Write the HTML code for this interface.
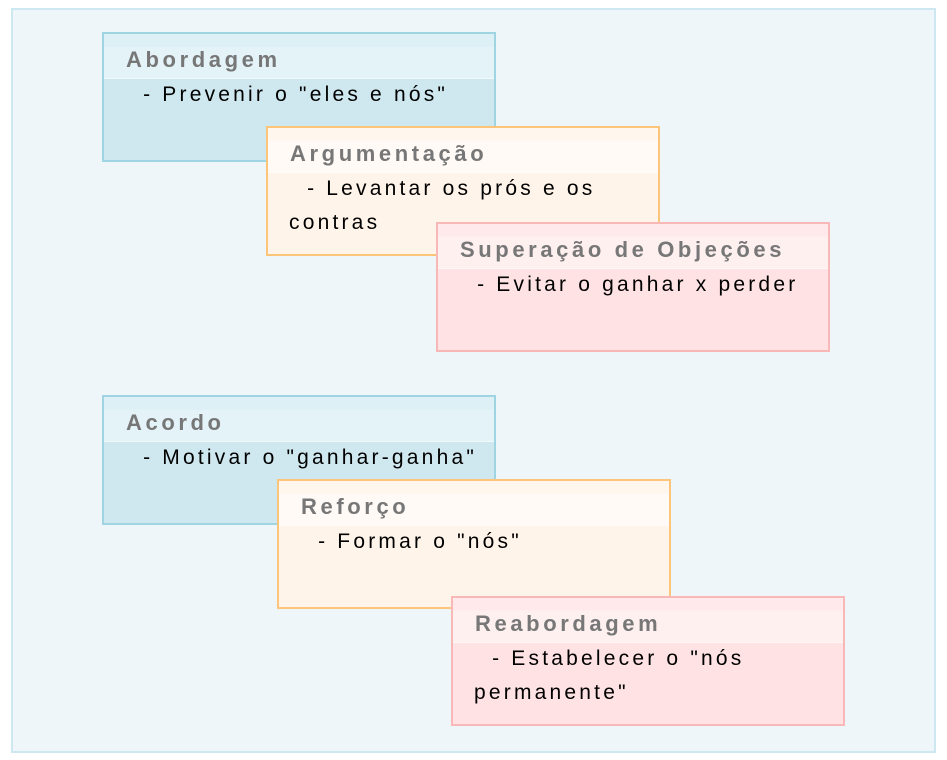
<!DOCTYPE html>
<html><head><meta charset="utf-8"><style>
body{margin:0;width:947px;height:760px;background:#fff;position:relative;overflow:hidden;font-family:"Liberation Sans",sans-serif}
.outer{position:absolute;left:11px;top:8px;width:921px;height:741px;background:#eef6f9;border:2px solid #cde8f0}
.b{position:absolute;width:394px;height:130px;box-sizing:border-box;border:2px solid}
.h{height:45px;box-sizing:border-box;padding-left:22px;line-height:52px;font-weight:bold;font-size:22px;letter-spacing:3.6px;color:#777;border-bottom:1px solid rgba(255,255,255,.6)}
.t{padding:0 0 0 21px;font-size:21px;letter-spacing:3.2px;line-height:34px;color:#000;margin-top:-1px}
.bl{border-color:#9fd5e2;background:#cfe8ef}.bl .h{background:linear-gradient(#dcf0f5 0,#dcf0f5 12px,#e3f3f8 13px)}
.or{border-color:#fcc57a;background:#fff4ea}.or .h{background:linear-gradient(#fff6ee 0,#fff6ee 12px,#fffaf6 13px)}
.pk{border-color:#f8b8b8;background:#ffe3e4}.pk .h{background:linear-gradient(#ffe9ea 0,#ffe9ea 12px,#fff0f0 13px)}
</style></head><body>
<div class="outer"></div>
<div class="b bl" style="left:102px;top:32px"><div class="h">Abordagem</div><div class="t">&nbsp;&nbsp;- Prevenir o "eles e nós"</div></div>
<div class="b or" style="left:266px;top:126px"><div class="h">Argumentação</div><div class="t">&nbsp;&nbsp;- Levantar os prós e os contras</div></div>
<div class="b pk" style="left:436px;top:222px"><div class="h">Superação de Objeções</div><div class="t">&nbsp;&nbsp;- Evitar o ganhar x perder</div></div>
<div class="b bl" style="left:102px;top:395px"><div class="h">Acordo</div><div class="t">&nbsp;&nbsp;- Motivar o "ganhar-ganha"</div></div>
<div class="b or" style="left:277px;top:479px"><div class="h">Reforço</div><div class="t">&nbsp;&nbsp;- Formar o "nós"</div></div>
<div class="b pk" style="left:451px;top:596px"><div class="h">Reabordagem</div><div class="t">&nbsp;&nbsp;- Estabelecer o "nós permanente"</div></div>
</body></html>
